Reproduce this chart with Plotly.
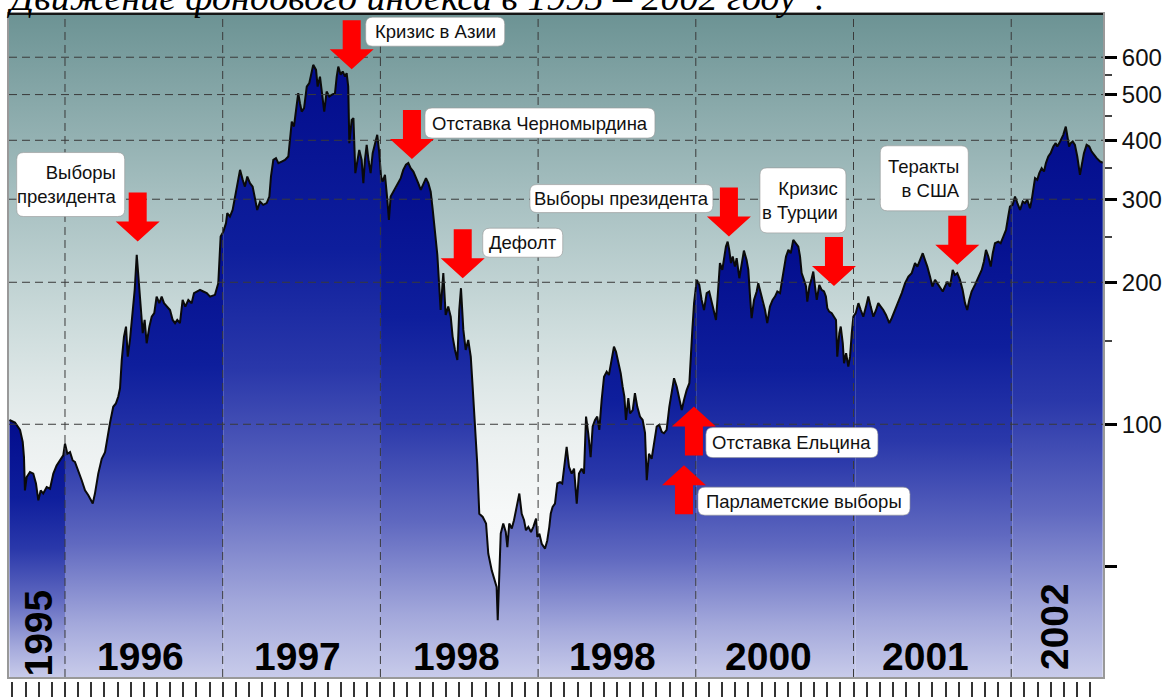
import math
import plotly.graph_objects as go

# ---------------- data ----------------
# time in fractional years, index value (log scale)
T = [
    1995.648, 1995.683, 1995.715, 1995.732, 1995.740, 1995.746, 1995.757, 1995.778, 1995.799, 1995.816,
    1995.831, 1995.846, 1995.862, 1995.884, 1995.905, 1995.926, 1995.947, 1995.968, 1995.989, 1996.000,
    1996.015, 1996.032, 1996.049, 1996.063, 1996.084, 1996.106, 1996.127, 1996.148, 1996.176, 1996.190,
    1996.211, 1996.233, 1996.254, 1996.268, 1996.285, 1996.306, 1996.323, 1996.338, 1996.349, 1996.360,
    1996.374, 1996.387, 1996.398, 1996.412, 1996.429, 1996.442, 1996.455, 1996.467, 1996.480, 1996.493,
    1996.505, 1996.518, 1996.535, 1996.550, 1996.566, 1996.581, 1996.598, 1996.613, 1996.628, 1996.645,
    1996.666, 1996.683, 1996.698, 1996.712, 1996.729, 1996.746, 1996.763, 1996.782, 1996.803, 1996.818,
    1996.839, 1996.856, 1996.877, 1996.899, 1996.920, 1996.951, 1996.972, 1996.987, 1997.004, 1997.021,
    1997.029, 1997.046, 1997.063, 1997.078, 1997.093, 1997.110, 1997.127, 1997.141, 1997.156, 1997.173,
    1997.190, 1997.205, 1997.219, 1997.237, 1997.257, 1997.279, 1997.296, 1997.306, 1997.321, 1997.338,
    1997.353, 1997.374, 1997.395, 1997.416, 1997.427, 1997.438, 1997.452, 1997.465, 1997.479, 1997.490,
    1997.501, 1997.516, 1997.533, 1997.549, 1997.574, 1997.592, 1997.602, 1997.617, 1997.634, 1997.644,
    1997.659, 1997.676, 1997.691, 1997.712, 1997.723, 1997.733, 1997.748, 1997.761, 1997.776, 1997.786,
    1997.796, 1997.803, 1997.818, 1997.829, 1997.841, 1997.853, 1997.866, 1997.881, 1997.892, 1997.902,
    1997.913, 1997.926, 1997.938, 1997.951, 1997.966, 1997.980, 1997.993, 1998.004, 1998.015, 1998.029,
    1998.044, 1998.054, 1998.065, 1998.082, 1998.099, 1998.113, 1998.129, 1998.145, 1998.162, 1998.177,
    1998.192, 1998.209, 1998.224, 1998.240, 1998.256, 1998.272, 1998.289, 1998.304, 1998.319, 1998.332,
    1998.346, 1998.361, 1998.382, 1998.399, 1998.414, 1998.430, 1998.446, 1998.458, 1998.473, 1998.488,
    1998.500, 1998.511, 1998.526, 1998.541, 1998.557, 1998.573, 1998.585, 1998.600, 1998.614, 1998.627,
    1998.649, 1998.670, 1998.684, 1998.706, 1998.722, 1998.737, 1998.744, 1998.752, 1998.763, 1998.779,
    1998.795, 1998.805, 1998.817, 1998.833, 1998.847, 1998.864, 1998.881, 1998.896, 1998.911, 1998.923,
    1998.938, 1998.955, 1998.970, 1998.987, 1998.995, 1999.008, 1999.023, 1999.044, 1999.058, 1999.071,
    1999.080, 1999.092, 1999.107, 1999.122, 1999.139, 1999.153, 1999.166, 1999.181, 1999.196, 1999.213,
    1999.228, 1999.245, 1999.259, 1999.276, 1999.291, 1999.304, 1999.318, 1999.333, 1999.346, 1999.361,
    1999.375, 1999.388, 1999.403, 1999.418, 1999.435, 1999.449, 1999.466, 1999.481, 1999.494, 1999.509,
    1999.524, 1999.536, 1999.547, 1999.557, 1999.572, 1999.583, 1999.600, 1999.614, 1999.629, 1999.646,
    1999.663, 1999.678, 1999.689, 1999.703, 1999.720, 1999.735, 1999.752, 1999.768, 1999.784, 1999.798,
    1999.815, 1999.832, 1999.847, 1999.862, 1999.879, 1999.895, 1999.911, 1999.925, 1999.942, 1999.959,
    1999.968, 1999.978, 1999.989, 2000.006, 2000.022, 2000.037, 2000.052, 2000.069, 2000.085, 2000.101,
    2000.115, 2000.128, 2000.143, 2000.153, 2000.168, 2000.179, 2000.191, 2000.202, 2000.212, 2000.223,
    2000.234, 2000.248, 2000.259, 2000.276, 2000.291, 2000.305, 2000.322, 2000.333, 2000.344, 2000.354,
    2000.369, 2000.386, 2000.396, 2000.411, 2000.424, 2000.439, 2000.453, 2000.470, 2000.487, 2000.502,
    2000.517, 2000.534, 2000.544, 2000.555, 2000.572, 2000.587, 2000.602, 2000.618, 2000.635, 2000.650,
    2000.661, 2000.671, 2000.686, 2000.699, 2000.707, 2000.720, 2000.735, 2000.745, 2000.756, 2000.767,
    2000.783, 2000.798, 2000.813, 2000.825, 2000.834, 2000.846, 2000.862, 2000.876, 2000.889, 2000.897,
    2000.910, 2000.919, 2000.932, 2000.940, 2000.953, 2000.967, 2000.978, 2000.989, 2000.999, 2001.014,
    2001.031, 2001.046, 2001.062, 2001.079, 2001.094, 2001.109, 2001.126, 2001.143, 2001.157, 2001.173,
    2001.189, 2001.206, 2001.227, 2001.242, 2001.263, 2001.284, 2001.306, 2001.327, 2001.348, 2001.369,
    2001.390, 2001.405, 2001.422, 2001.439, 2001.453, 2001.468, 2001.485, 2001.500, 2001.517, 2001.531,
    2001.548, 2001.566, 2001.580, 2001.595, 2001.612, 2001.629, 2001.643, 2001.658, 2001.675, 2001.692,
    2001.707, 2001.721, 2001.734, 2001.749, 2001.770, 2001.791, 2001.813, 2001.827, 2001.840, 2001.855,
    2001.870, 2001.883, 2001.897, 2001.918, 2001.933, 2001.950, 2001.967, 2001.981, 2001.992, 2002.009,
    2002.024, 2002.039, 2002.056, 2002.073, 2002.087, 2002.102, 2002.119, 2002.130, 2002.140, 2002.151,
    2002.165, 2002.178, 2002.193, 2002.208, 2002.220, 2002.235, 2002.250, 2002.267, 2002.282, 2002.292,
    2002.305, 2002.320, 2002.330, 2002.346, 2002.356, 2002.367, 2002.377, 2002.390, 2002.404, 2002.419,
    2002.436, 2002.447, 2002.461, 2002.478, 2002.495, 2002.510, 2002.525, 2002.542, 2002.563, 2002.580,
]
V = [
    102.1, 100.8, 97.3, 91.7, 85.2, 72.4, 77.3, 79.2, 78.6, 74.9,
    69.0, 72.4, 71.3, 73.6, 73.0, 78.6, 81.8, 83.8, 85.9, 91.0,
    86.6, 87.3, 83.8, 83.2, 79.9, 76.1, 72.4, 70.7, 67.9, 71.3,
    78.6, 84.5, 87.3, 94.0, 100.5, 108.9, 110.7, 114.5, 119.2, 136.9,
    153.4, 161.1, 139.1, 150.9, 173.3, 192.7, 228.7, 202.3, 172.0, 156.0,
    166.4, 148.5, 161.1, 169.1, 172.0, 186.5, 180.6, 186.5, 180.6, 177.6,
    174.7, 166.4, 163.8, 166.4, 163.8, 183.5, 177.6, 183.5, 180.6, 189.7,
    191.2, 192.7, 191.2, 189.7, 186.5, 188.1, 199.1, 250.0, 256.1, 266.9,
    280.2, 275.7, 284.7, 304.0, 324.4, 346.2, 329.7, 319.1, 335.1, 324.4,
    319.1, 301.5, 284.7, 296.6, 291.8, 294.3, 304.0, 335.1, 363.5, 366.6,
    357.8, 360.6, 363.5, 369.5, 400.8, 438.3, 427.9, 464.0, 503.5, 479.5,
    460.2, 467.9, 519.9, 528.7, 578.1, 564.0, 519.9, 545.8, 487.2, 460.2,
    507.5, 495.2, 499.3, 503.5, 545.8, 573.3, 550.6, 559.5, 545.8, 555.0,
    519.9, 394.5, 441.9, 445.7, 340.8, 363.5, 381.7, 363.5, 324.4, 363.5,
    391.2, 360.6, 340.8, 375.6, 391.2, 410.8, 375.6, 335.1, 327.0, 337.9,
    299.0, 271.2, 304.0, 311.3, 316.6, 324.4, 332.5, 346.2, 354.9, 357.8,
    349.1, 343.4, 335.1, 324.4, 313.9, 321.8, 332.5, 324.4, 311.3, 284.7,
    258.2, 228.7, 174.7, 209.1, 170.5, 177.6, 169.1, 153.4, 143.7, 136.9,
    174.7, 194.3, 158.5, 143.7, 150.9, 139.1, 120.1, 100.5, 82.5, 64.6,
    63.6, 61.6, 53.2, 49.0, 46.7, 45.2, 38.4, 46.7, 58.6, 61.6,
    59.1, 54.9, 61.6, 60.1, 62.6, 66.8, 71.3, 64.6, 62.6, 59.6,
    60.6, 59.1, 60.6, 63.1, 57.7, 58.6, 55.8, 54.5, 56.7, 60.6,
    64.6, 66.8, 67.9, 74.9, 75.4, 74.9, 81.2, 89.5, 81.2, 78.6,
    80.5, 67.9, 78.6, 80.5, 78.6, 103.8, 95.7, 85.2, 98.9, 102.1,
    103.8, 97.3, 112.6, 126.1, 129.2, 127.2, 136.9, 146.1, 142.5, 134.7,
    128.2, 120.1, 114.5, 102.1, 113.6, 105.5, 107.2, 116.4, 108.9, 103.8,
    102.1, 95.9, 76.1, 86.6, 84.5, 91.0, 98.9, 99.7, 96.4, 95.7,
    97.3, 108.9, 118.2, 125.2, 120.1, 112.6, 107.2, 112.6, 118.2, 122.2,
    141.5, 158.5, 180.6, 202.3, 197.5, 183.5, 174.7, 189.7, 191.2, 180.6,
    173.3, 166.4, 195.9, 219.6, 212.4, 223.1, 238.1, 243.9, 234.2, 219.6,
    226.8, 215.9, 225.0, 204.0, 219.6, 233.4, 223.1, 212.4, 186.5, 167.8,
    183.5, 191.2, 199.1, 189.7, 180.6, 174.7, 163.8, 177.6, 183.5, 186.5,
    191.2, 189.7, 199.1, 209.1, 226.8, 234.2, 230.5, 245.9, 242.0, 238.1,
    226.8, 209.1, 202.3, 195.9, 182.0, 195.9, 204.0, 210.7, 195.9, 183.5,
    197.5, 192.7, 191.2, 186.5, 176.2, 173.3, 172.0, 169.1, 166.4, 139.1,
    156.0, 161.1, 148.5, 134.7, 141.5, 132.5, 139.1, 156.0, 169.1, 172.0,
    180.6, 174.7, 169.1, 177.6, 186.5, 177.6, 169.1, 174.7, 180.6, 177.6,
    174.7, 170.5, 163.8, 167.8, 174.7, 180.6, 189.7, 199.1, 205.6, 209.1,
    219.6, 215.9, 223.1, 230.5, 223.1, 215.9, 205.6, 195.9, 202.3, 199.1,
    194.3, 191.2, 195.9, 200.6, 195.9, 212.4, 207.3, 209.1, 202.3, 192.7,
    180.6, 174.7, 183.5, 191.2, 197.5, 204.0, 212.4, 221.3, 234.2, 226.8,
    215.9, 230.5, 242.0, 243.9, 242.0, 249.9, 258.2, 275.7, 289.4, 291.8,
    304.0, 294.3, 284.7, 296.6, 294.3, 299.0, 287.1, 299.0, 319.1, 332.5,
    329.7, 340.8, 349.1, 343.4, 357.8, 369.5, 375.6, 388.0, 394.5, 388.0,
    394.5, 404.2, 410.8, 427.7, 407.4, 388.0, 394.5, 397.6, 391.2, 369.5,
    337.9, 357.8, 375.6, 391.2, 388.0, 378.5, 372.6, 366.6, 360.6, 358.5,
]

YEAR_STARTS = [1996, 1997, 1998, 1999, 2000, 2001, 2002]
YEAR_TEXT = ["1995", "1996", "1997", "1998", "1998", "2000", "2001", "2002"]

Y_TICKS = [50, 100, 200, 300, 400, 500, 600]
Y_TICK_TEXT = ["", "100", "200", "300", "400", "500", "600"]
Y_MINOR = [150, 250, 350, 450, 550]
GRID_VALUES = [100, 200, 300, 400, 500, 600]

EVENT_TEXT = ["Выборы<br>президента", "Кризис в Азии", "Отставка Черномырдина", "Дефолт",
              "Выборы президента", "Кризис<br>в Турции", "Теракты<br>в США",
              "Отставка Ельцина", "Парламетские выборы"]
EVENT_T = [1996.461, 1997.818, 1998.200, 1998.522, 2000.210, 2000.876, 2001.658, 1999.988, 1999.925]
EVENT_V = [244.0, 566.0, 365.0, 204.0, 250.0, 196.5, 217.8, 109.0, 81.9]
EVENT_DIR = ["down", "down", "down", "down", "down", "down", "down", "up", "up"]

TITLE = "Движение фондового индекса в 1995 – 2002 году*."

# ---------------- layout settings ----------------
W, H = 1165, 697
X_RANGE = [1995.645, 2002.582]
Y_RANGE = [1.4642, 2.8698]          # log10 of axis limits
Y_DOMAIN = [0.0293, 1.0]
YEAR_TEXT_X = [1995.826, 1996.48, 1997.475, 1998.485, 1999.47, 2000.46, 2001.455, 2002.278]
YEAR_TEXT_Y = [0.0937, 0.0593, 0.0593, 0.0593, 0.0593, 0.0593, 0.0593, 0.1025]
YEAR_TEXT_ANG = [-90, 0, 0, 0, 0, 0, 0, -90]
# text boxes relative to the arrow tip (screen px: left, right, top, bottom, align)
BOXES = [(-121, -13, -89, -25, "right"), (14, 153, -52, -23, "center"), (13, 243, -51, -21, "center"),
         (20, 100, -50, -21, "center"), (-199, -16, -52, -24, "center"), (-74, 12, -118, -53, "right"),
         (-77, 11, -119, -54, "right"), (12, 184, 21, 51, "center"), (14, 226, 22, 50, "center")]

FILL_SCALE = [[0, "#c8cbea"], [0.12, "#a3a8db"], [0.3, "#6069c0"], [0.5, "#2a38aa"],
              [0.7, "#0e1e9c"], [1, "#020c8c"]]
BG_SCALE = [[0, "#ffffff"], [0.25, "#f6f8f8"], [0.36, "#ebf0f0"], [0.45, "#dce6e6"],
            [0.55, "#c9d9d9"], [0.72, "#a7c0c1"], [1, "#6c9394"]]
BOX_FONT = "Liberation Sans, Arial, sans-serif"

ybot = 10 ** Y_RANGE[0]
ytop = 10 ** Y_RANGE[1]

fig = go.Figure()

# background gradient
fig.add_trace(go.Scatter(
    x=[X_RANGE[0], X_RANGE[1], X_RANGE[1], X_RANGE[0], X_RANGE[0]],
    y=[ybot, ybot, ytop, ytop, ybot], fill="toself", mode="none",
    fillgradient=dict(type="vertical", colorscale=BG_SCALE),
    hoverinfo="skip", showlegend=False))

# area under the curve, one gradient per calendar year
n = len(T)
for k in range(1995, 2003):
    idx = [i for i in range(n) if math.floor(T[i]) == k]
    if not idx:
        continue
    if idx[-1] + 1 < n:
        idx.append(idx[-1] + 1)
    xs = [T[i] for i in idx] + [T[idx[-1]], T[idx[0]]]
    ys = [V[i] for i in idx] + [ybot, ybot]
    fig.add_trace(go.Scatter(
        x=xs, y=ys, fill="toself", mode="none",
        fillgradient=dict(type="vertical", colorscale=FILL_SCALE),
        hoverinfo="skip", showlegend=False))

# the index line
fig.add_trace(go.Scatter(x=T, y=V, mode="lines", line=dict(color="#0a0a0a", width=2),
                         hoverinfo="skip", showlegend=False))

# invisible trace to carry the monthly tick axis
fig.add_trace(go.Scatter(x=X_RANGE, y=[100, 100], xaxis="x2", mode="lines",
                         line=dict(width=0, color="rgba(0,0,0,0)"), hoverinfo="skip", showlegend=False))

shapes = []
grid_line = dict(color="#3a3a3a", width=1, dash="8px,5px")
for v in GRID_VALUES:
    shapes.append(dict(type="line", xref="x domain", x0=0, x1=1, yref="y", y0=v, y1=v,
                       line=grid_line, layer="above"))
for k in YEAR_STARTS:
    shapes.append(dict(type="line", xref="x", x0=k, x1=k, yref="y domain", y0=0, y1=1,
                       line=grid_line, layer="above"))
shapes.append(dict(type="line", xref="x domain", x0=0, x1=1, yref="y domain", y0=1, y1=1,
                   line=dict(color="#151515", width=2), layer="above"))

DOWN = "M0,0 L-22,20 L-9,20 L-9,49 L9,49 L9,20 L22,20 Z"
UP = "M0,0 L-22,-20 L-9,-20 L-9,-49 L9,-49 L9,-20 L22,-20 Z"


def rounded(L, R, Tp, B, r=7):
    top, bot = -Tp, -B
    return (f"M{L + r},{top} L{R - r},{top} Q{R},{top} {R},{top - r} L{R},{bot + r} "
            f"Q{R},{bot} {R - r},{bot} L{L + r},{bot} Q{L},{bot} {L},{bot + r} "
            f"L{L},{top - r} Q{L},{top} {L + r},{top} Z")


annotations = []
for i in range(len(EVENT_TEXT)):
    t, v = EVENT_T[i], EVENT_V[i]
    shapes.append(dict(type="path", xref="x", yref="y", xsizemode="pixel", ysizemode="pixel",
                       xanchor=t, yanchor=v, path=DOWN if EVENT_DIR[i] == "down" else UP,
                       fillcolor="#ff0000", line=dict(width=0), layer="above"))
    L, R, Tp, B, align = BOXES[i]
    shapes.append(dict(type="path", xref="x", yref="y", xsizemode="pixel", ysizemode="pixel",
                       xanchor=t, yanchor=v, path=rounded(L, R, Tp, B),
                       fillcolor="white", line=dict(width=1, color="rgba(150,150,150,0.6)"),
                       layer="above"))
    if align == "right":
        xs, xa = R - 6, "right"
    else:
        xs, xa = (L + R) / 2, "center"
    annotations.append(dict(x=t, y=math.log10(v), xref="x", yref="y", showarrow=False,
                            text=EVENT_TEXT[i], align=align, xanchor=xa, yanchor="middle",
                            xshift=xs, yshift=-(Tp + B) / 2,
                            font=dict(family=BOX_FONT, size=18.5, color="#111")))

for i, txt in enumerate(YEAR_TEXT):
    annotations.append(dict(x=YEAR_TEXT_X[i], y=YEAR_TEXT_Y[i], xref="x", yref="paper",
                            showarrow=False, text=f"<b>{txt}</b>", textangle=YEAR_TEXT_ANG[i],
                            xanchor="center", yanchor="middle",
                            font=dict(family="Liberation Sans, Arial, sans-serif", size=39,
                                      color="#000")))

annotations.append(dict(x=0, y=1, xref="paper", yref="paper", xanchor="left", yanchor="bottom",
                        xshift=-4, yshift=-6, showarrow=False, text=TITLE,
                        font=dict(family="Liberation Serif, Times New Roman, serif", size=38,
                                  color="#000", style="italic")))

fig.update_layout(
    width=W, height=H, margin=dict(l=9, r=62, t=14, b=0),
    paper_bgcolor="white", plot_bgcolor="white", showlegend=False,
    shapes=shapes, annotations=annotations,
    xaxis=dict(range=X_RANGE, showgrid=False, zeroline=False, showticklabels=False, ticks="",
               showline=True, mirror=True, linecolor="#999", linewidth=2, fixedrange=True),
    xaxis2=dict(range=X_RANGE, overlaying="x", anchor="free", position=0.0227, side="bottom",
                ticks="outside", ticklen=16, tickwidth=1.5, tickcolor="#333", tick0=1996,
                dtick=1 / 12, showticklabels=False, showgrid=False, zeroline=False, showline=False),
    yaxis=dict(type="log", range=Y_RANGE, domain=Y_DOMAIN, side="right",
               tickvals=Y_TICKS, ticktext=Y_TICK_TEXT, ticks="outside", ticklen=12, tickwidth=3,
               tickcolor="#000", tickfont=dict(family="Liberation Sans, Arial, sans-serif",
                                               size=24, color="#111"),
               showgrid=False, zeroline=False, showline=True, mirror=True, linecolor="#999",
               linewidth=2,
               minor=dict(tickvals=Y_MINOR, ticks="outside", ticklen=7, tickwidth=2,
                          tickcolor="#444", showgrid=False)),
)

fig.write_html("out.html", config={"displayModeBar": False},
               post_script="document.body.style.margin='0px';document.body.style.padding='0px';")
